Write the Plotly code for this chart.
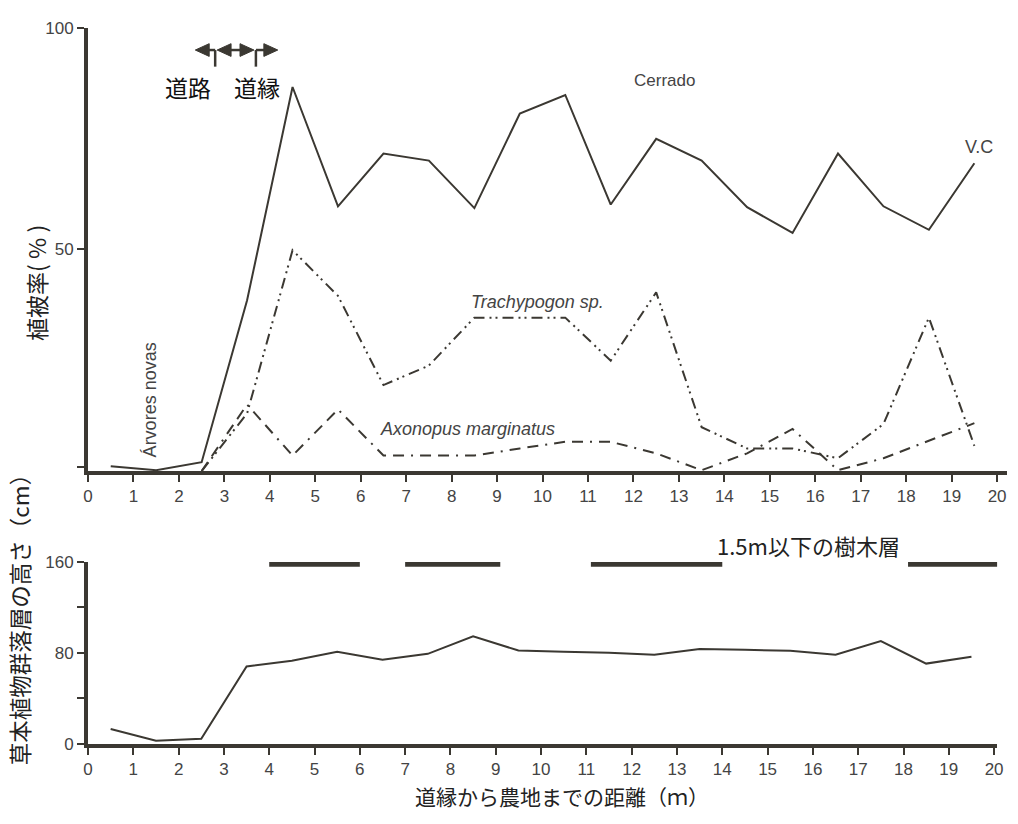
import plotly.graph_objects as go

# ---- data -------------------------------------------------------------
# distance from the road edge (m), centre of each 1 m strip
dist = [0.5, 1.5, 2.5, 3.5, 4.5, 5.5, 6.5, 7.5, 8.5, 9.5,
        10.5, 11.5, 12.5, 13.5, 14.5, 15.5, 16.5, 17.5, 18.5, 19.5]

# vegetation cover (%)
cerrado = [1.1, 0.2, 2.0, 38.5, 86.6, 59.7, 71.6, 70.0, 59.3, 80.6,
           84.8, 60.1, 74.9, 70.0, 59.5, 53.7, 71.6, 59.7, 54.4, 69.4]
grass_dist = [2.5, 3.5, 4.5, 5.5, 6.5, 7.5, 8.5, 9.5, 10.5, 11.5,
              12.5, 13.5, 14.5, 15.5, 16.5, 17.5, 18.5, 19.5]
trachypogon = [0.0, 13.0, 49.8, 39.5, 19.4, 23.8, 34.6, 34.6, 34.6, 24.9,
               40.3, 9.9, 5.1, 5.1, 2.9, 10.6, 34.6, 5.7]
axonopus = [0.0, 15.0, 3.5, 13.9, 3.5, 3.5, 3.5, 5.1, 6.6, 6.6,
            4.0, 0.2, 4.0, 9.5, 0.2, 2.9, 6.8, 10.8]

# height of the herbaceous layer (cm)
herb_height = [12.9, 2.6, 4.3, 68.0, 73.0, 80.9, 74.0, 79.1, 94.6, 82.0,
               81.0, 80.0, 78.3, 83.4, 82.6, 81.7, 78.3, 90.3, 70.5, 76.6]

# stretches with woody layer below 1.5 m
tree_start = [4.0, 7.0, 11.1, 18.1]
tree_end = [6.0, 9.1, 14.0, 20.1]
tree_level = 158

x_ticks = list(range(0, 21))
top_y_ticks = [1, 50, 100]
top_y_text = ["", "50", "100"]
bot_y_ticks = [0, 40, 80, 120, 160]
bot_y_text = ["0", "", "80", "", "160"]

# ---- styling ------------------------------------------------------------
W, H = 1018, 824
ML = 88
INK = "#3b3832"
LABEL = "#444444"
LATIN = "Liberation Sans, Arial, sans-serif"
CJK = "Noto Sans CJK JP, sans-serif"


def fx(px):
    return (px - ML) / (W - ML)


def fy(py):
    return 1 - py / H


fig = go.Figure()

fig.add_trace(go.Scatter(x=dist, y=cerrado, mode="lines",
                         line=dict(color=INK, width=2), xaxis="x", yaxis="y"))
fig.add_trace(go.Scatter(x=grass_dist, y=trachypogon, mode="lines",
                         line=dict(color=INK, width=2,
                                   dash="11px,5px,2px,4px,2px,5px"),
                         xaxis="x", yaxis="y"))
fig.add_trace(go.Scatter(x=grass_dist, y=axonopus, mode="lines",
                         line=dict(color=INK, width=2,
                                   dash="11px,7px,11px,7px,2px,7px"),
                         xaxis="x", yaxis="y"))
fig.add_trace(go.Scatter(x=dist, y=herb_height, mode="lines",
                         line=dict(color=INK, width=2), xaxis="x2", yaxis="y2"))
for s, e in zip(tree_start, tree_end):
    fig.add_trace(go.Scatter(x=[s, e], y=[tree_level, tree_level], mode="lines",
                             line=dict(color=INK, width=5),
                             xaxis="x2", yaxis="y2", cliponaxis=False))

axis_common = dict(showline=True, linecolor=INK, showgrid=False, zeroline=False,
                   ticks="outside", tickcolor=INK, tickwidth=1.5, ticklen=7,
                   tickfont=dict(family=LATIN, size=17, color=LABEL))

fig.update_layout(
    width=W, height=H, autosize=False,
    margin=dict(l=ML, r=0, t=0, b=0),
    paper_bgcolor="white", plot_bgcolor="white",
    showlegend=False,
    xaxis=dict(domain=[0, fx(1013)], range=[0, (1013 - ML) / 45.75],
               tickvals=x_ticks, anchor="y", linewidth=4, **axis_common),
    yaxis=dict(domain=[fy(473), fy(19)], range=[0, 100],
               tickvals=top_y_ticks, ticktext=top_y_text, anchor="x",
               linewidth=4, **axis_common),
    xaxis2=dict(domain=[0, fx(1003)], range=[0, (1003 - ML) / 45.6],
                tickvals=x_ticks, anchor="y2", linewidth=4, **axis_common),
    yaxis2=dict(domain=[fy(752), fy(566)], range=[0, 160],
                tickvals=bot_y_ticks, ticktext=bot_y_text, anchor="x2",
                linewidth=4, **axis_common),
)

notes = [
    ("Cerrado", 668, 73, LATIN, 17, LABEL, 0),
    ("V.C", 985, 141, LATIN, 18, LABEL, 0),
    ("<i>Trachypogon sp.</i>", 540, 300, LATIN, 18, LABEL, 0),
    ("<i>Axonopus marginatus</i>", 470, 430, LATIN, 18, LABEL, 0),
    ("Árvores novas", 150, 400, LATIN, 18, LABEL, -90),
    ("道路", 189, 80, CJK, 23, "#111111", 0),
    ("道縁", 258, 80, CJK, 23, "#111111", 0),
    ("1.5m以下の樹木層", 813, 549, CJK, 22, "#222222", 0),
    ("植被率( % )", 35, 280, CJK, 23, "#222222", -90),
    ("草本植物群落層の高さ（cm）", 18, 619, CJK, 22.5, "#222222", -90),
    ("道縁から農地までの距離（ｍ）", 565, 806, CJK, 21, "#222222", 0),
]
for text, px, py, fam, size, col, ang in notes:
    fig.add_annotation(text=text, x=fx(px), y=fy(py), xref="paper", yref="paper",
                       showarrow=False, xanchor="center", yanchor="middle",
                       textangle=ang, font=dict(family=fam, size=size, color=col))

# road / road-edge markers with arrowheads
AY = 42
HEAD = 14
HALF = 6.5


def head(tip, direction):
    base = tip - direction * HEAD
    return dict(type="path", xref="paper", yref="paper",
                path=f"M {fx(tip)},{fy(AY)} L {fx(base)},{fy(AY - HALF)} "
                     f"L {fx(base)},{fy(AY + HALF)} Z",
                fillcolor=INK, line=dict(color=INK, width=1))


def seg(x0, y0, x1, y1):
    return dict(type="line", xref="paper", yref="paper",
                x0=fx(x0), y0=fy(y0), x1=fx(x1), y1=fy(y1),
                line=dict(color=INK, width=2.5))


shapes = [
    head(196, -1), seg(206, AY, 216, AY), seg(216, AY, 216, 59),
    head(218, -1), head(255, 1), seg(228, AY, 245, AY),
    seg(257, AY, 257, 59), seg(257, AY, 268, AY), head(279, 1),
]
fig.update_layout(shapes=shapes)

fig.write_html("out.html")
